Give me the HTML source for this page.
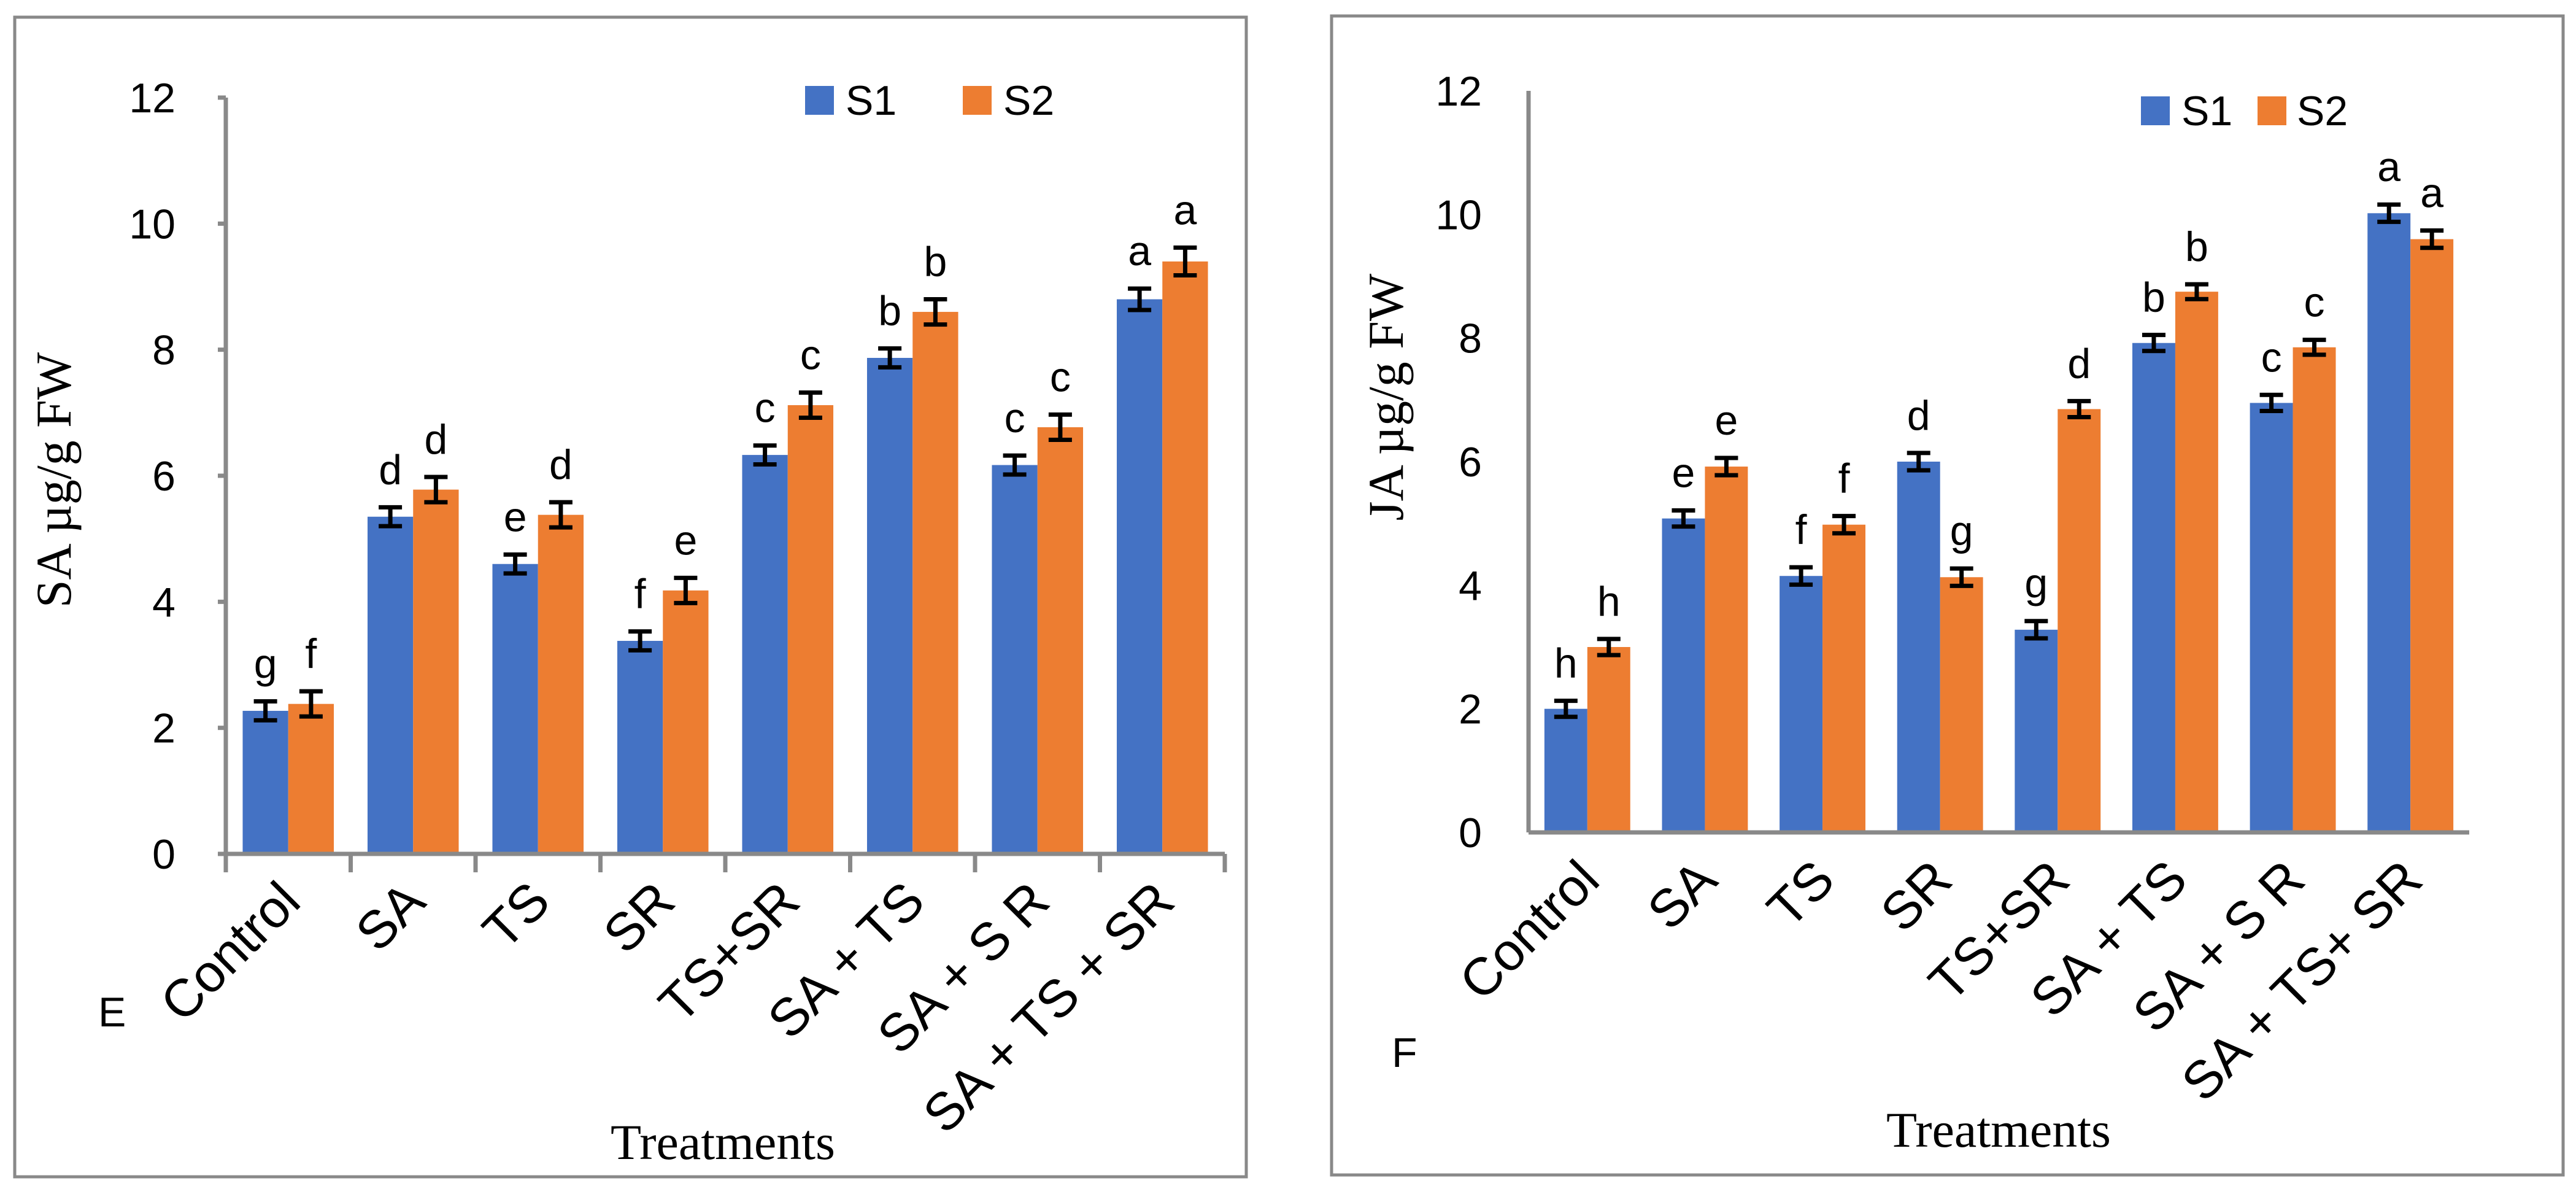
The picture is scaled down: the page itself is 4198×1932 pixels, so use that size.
<!DOCTYPE html>
<html><head><meta charset="utf-8"><style>
html,body{margin:0;padding:0;background:#fff;}
svg{display:block;}
.tk{font-family:"Liberation Sans",sans-serif;font-size:68px;fill:#000;}
.cat{font-family:"Liberation Sans",sans-serif;font-size:86px;fill:#000;}
.tt{font-family:"Liberation Serif",serif;font-size:82px;fill:#000;}
</style></head><body>
<svg id="svg" width="4198" height="1932" viewBox="0 0 4198 1932" xmlns="http://www.w3.org/2000/svg">
<rect x="24" y="28" width="2007" height="1889" fill="#fff" stroke="#898989" stroke-width="5"/>
<rect x="2170" y="26" width="2007" height="1888" fill="#fff" stroke="#898989" stroke-width="5"/>
<g id="left"></g>
<g id="right"></g>
</svg>
<script>
const categories = ["Control","SA","TS","SR","TS+SR","SA + TS","SA + S R","SA + TS + SR"];
const categoriesF = ["Control","SA","TS","SR","TS+SR","SA + TS","SA + S R","SA + TS+ SR"];
const yTicks = [0,2,4,6,8,10,12];
const saS1 = [2.27,5.35,4.6,3.38,6.33,7.87,6.17,8.8];
const saS2 = [2.38,5.78,5.38,4.18,7.12,8.6,6.77,9.4];
const saErr1 = [0.15,0.15,0.15,0.15,0.15,0.15,0.15,0.17];
const saErr2 = [0.2,0.2,0.2,0.2,0.2,0.2,0.2,0.22];
const saLet1 = ["g","d","e","f","c","b","c","a"];
const saLet2 = ["f","d","d","e","c","b","c","a"];
const jaS1 = [2.0,5.08,4.15,6.0,3.28,7.92,6.95,10.02];
const jaS2 = [3.0,5.92,4.98,4.13,6.85,8.75,7.85,9.6];
const jaErr1 = [0.13,0.13,0.14,0.14,0.14,0.13,0.13,0.14];
const jaErr2 = [0.13,0.14,0.14,0.14,0.13,0.12,0.12,0.14];
const jaLet1 = ["h","e","f","d","g","b","c","a"];
const jaLet2 = ["h","e","f","g","d","b","c","a"];

const NS="http://www.w3.org/2000/svg";
function mk(parent,tag,attrs,text){const e=document.createElementNS(NS,tag);for(const k in attrs)e.setAttribute(k,attrs[k]);if(text!==undefined)e.textContent=text;parent.appendChild(e);return e;}

function drawChart(g,cfg){
  const {x0,x1,yBase,yTop,s1,s2,e1,e2,l1,l2,cats,ticks}=cfg;
  const yScale=v=>yBase-(v/12)*(yBase-yTop);
  const cw=(x1-x0)/cats.length;
  const bw=cw*0.365, off=cw*0.135;
  const xBand=i=>x0+i*cw;
  ticks.forEach(t=>{
    const tl=mk(g,'text',{x:x0-cfg.labGap,y:yScale(t)+24,'text-anchor':'end',class:'tk'},String(t));
    
    
    if(cfg.ticksMarks){
      const tm=mk(g,'line',{x1:x0-13,x2:x0,y1:yScale(t),y2:yScale(t),stroke:'#898989','stroke-width':7});
      
      
    }
  });
  const series=[[s1,e1,l1,'#4472c4','s1'],[s2,e2,l2,'#ed7d31','s2']];
  cats.forEach((c,i)=>{
    series.forEach((sr,k)=>{
      const v=sr[0][i], er=sr[1][i];
      const bx=xBand(i)+off+k*bw;
      const r=mk(g,'rect',{x:bx,y:yScale(v),width:bw,height:yBase-yScale(v),fill:sr[3]});
      
      
      const cx=bx+bw/2;
      const eb=mk(g,'path',{d:`M${cx-19},${yScale(v+er)}H${cx+19}M${cx},${yScale(v+er)}V${yScale(v-er)}M${cx-19},${yScale(v-er)}H${cx+19}`,stroke:'#000','stroke-width':7,fill:'none'});
      
      
      const lt=mk(g,'text',{x:cx,y:yScale(v+er)-38,'text-anchor':'middle',class:'tk'},sr[2][i]);
      
      
    });
    if(cfg.ticksMarks){
      const xt=mk(g,'line',{x1:xBand(i),x2:xBand(i),y1:yBase,y2:yBase+30,stroke:'#898989','stroke-width':7});
      
      
    }
    const ax=xBand(i)+cw/2+24, ay=yBase+82;
    const cl=mk(g,'text',{x:ax,y:ay,'text-anchor':'end',class:'cat',transform:`rotate(-45 ${ax} ${ay})`},c);
    
    
  });
  if(cfg.ticksMarks){
    const xt=mk(g,'line',{x1:x1,x2:x1,y1:yBase,y2:yBase+30,stroke:'#898989','stroke-width':7});
    
    
  }
  const ya=mk(g,'line',{x1:x0,x2:x0,y1:yTop,y2:yBase+(cfg.ticksMarks?30:0),stroke:'#898989','stroke-width':7});
  
  
  const xa=mk(g,'line',{x1:x0-(cfg.ticksMarks?13:0),x2:x1,y1:yBase,y2:yBase,stroke:'#898989','stroke-width':7});
  
  
}

const L=document.getElementById('left');
drawChart(L,{x0:368,x1:1996,yBase:1391,yTop:159,s1:saS1,s2:saS2,e1:saErr1,e2:saErr2,l1:saLet1,l2:saLet2,cats:categories,ticks:yTicks,ticksMarks:true,labGap:82});
const R=document.getElementById('right');
drawChart(R,{x0:2491,x1:4024,yBase:1356,yTop:148,s1:jaS1,s2:jaS2,e1:jaErr1,e2:jaErr2,l1:jaLet1,l2:jaLet2,cats:categoriesF,ticks:yTicks,ticksMarks:false,labGap:76});
</script>
<script>
const S=document.getElementById('svg');
function t(x,y,txt,cls,name,extra){const e=document.createElementNS(NS,'text');e.setAttribute('x',x);e.setAttribute('y',y);e.setAttribute('class',cls);if(extra)for(const k in extra)e.setAttribute(k,extra[k]);e.textContent=txt;


S.appendChild(e);return e;}
function sq(x,y,c,name){const r=document.createElementNS(NS,'rect');r.setAttribute('x',x);r.setAttribute('y',y);r.setAttribute('width',47);r.setAttribute('height',47);r.setAttribute('fill',c);


S.appendChild(r);}
t(87+28,782,'SA µg/g FW','tt','y-axis-title',{'text-anchor':'middle',transform:'rotate(-90 115 782)'});
t(1178,1888,'Treatments','tt','x-axis-title',{'text-anchor':'middle'});
t(160,1672,'E','tk','panel-label');
sq(1312,140,'#4472c4','legend-s1-swatch');t(1378,187,'S1','tk','legend-s1-label');
sq(1569,140,'#ed7d31','legend-s2-swatch');t(1635,187,'S2','tk','legend-s2-label');
t(2258+28,647,'JA µg/g FW','tt','y-axis-title',{'text-anchor':'middle',transform:'rotate(-90 2286 647)'});
t(3257,1868,'Treatments','tt','x-axis-title',{'text-anchor':'middle'});
t(2268,1738,'F','tk','panel-label');
sq(3489,157,'#4472c4','legend-s1-swatch');t(3555,204,'S1','tk','legend-s1-label');
sq(3679,157,'#ed7d31','legend-s2-swatch');t(3743,204,'S2','tk','legend-s2-label');
</script>
</body></html>
